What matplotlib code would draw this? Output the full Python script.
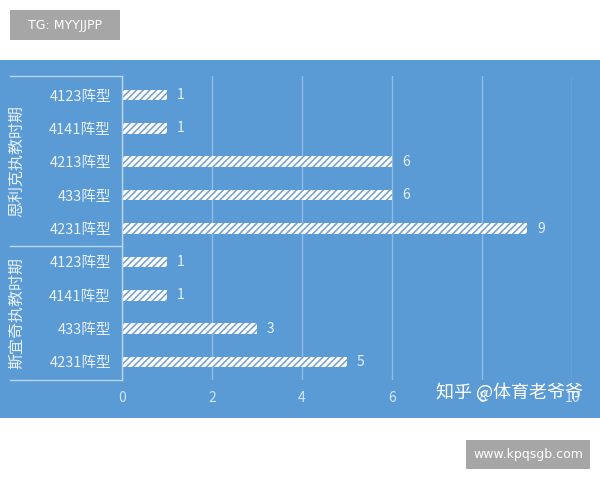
import matplotlib
matplotlib.use("Agg")
import matplotlib.pyplot as plt
from matplotlib.patches import Rectangle
from matplotlib.lines import Line2D

plt.rcParams['font.family'] = ['Noto Sans CJK SC', 'DejaVu Sans']
plt.rcParams['hatch.linewidth'] = 1.1

# ---- data ----
categories = ["4123阵型", "4141阵型", "4213阵型", "433阵型", "4231阵型",
              "4123阵型", "4141阵型", "433阵型", "4231阵型"]
values = [1, 1, 6, 6, 9, 1, 1, 3, 5]
groups = ["恩利克执教时期", "斯宜奇执教时期"]
group_sizes = [5, 4]
xticks = [0, 2, 4, 6, 8, 10]

BLUE = "#5b9bd5"
HATCH = "#6f9fcf"
W, H = 600, 480

fig = plt.figure(figsize=(6, 4.8), dpi=100)
fig.patch.set_facecolor("white")

def fx(px):
    return px / W

def fy(py):
    return 1 - py / H

# blue panel
fig.patches.append(Rectangle((0, fy(418)), 1, fy(60) - fy(418), transform=fig.transFigure,
                             facecolor=BLUE, edgecolor="none", zorder=-5))
# top grey box
fig.patches.append(Rectangle((fx(10), fy(40)), fx(110), fy(10) - fy(40), transform=fig.transFigure,
                             facecolor="#a6a6a6", edgecolor="none", zorder=-4))
fig.text(fx(65), fy(25), "TG: MYYJJPP", color="white", fontsize=9, ha="center", va="center",
         family=["DejaVu Sans"])
# bottom grey box
fig.patches.append(Rectangle((fx(466), fy(469)), fx(124), fy(440) - fy(469), transform=fig.transFigure,
                             facecolor="#a6a6a6", edgecolor="none", zorder=-4))
fig.text(fx(528), fy(454.5), "www.kpqsgb.com", color="white", fontsize=9, ha="center", va="center",
         family=["DejaVu Sans"])

# axes: x 0..10 maps to px 122..572 ; y axes from px 76..380
ax = fig.add_axes([fx(122), fy(380), fx(572 - 122), fy(76) - fy(380)])
ax.set_facecolor("none")
n = len(categories)
ypos = list(range(n))
ax.barh(ypos, values, height=0.32, color="white", edgecolor=HATCH, linewidth=0,
        hatch="/////", zorder=3)
ax.set_xlim(0, 10)
ax.set_ylim(8.54, -0.57)

for sp in ax.spines.values():
    sp.set_visible(False)

ax.set_xticks(xticks)
ax.set_xticklabels([str(t) for t in xticks], color="#d2e4f6", fontsize=10)
ax.tick_params(axis="x", length=0, pad=8)
ax.set_yticks(ypos)
ax.set_yticklabels(categories, color="#e8f0f9", fontsize=10.5)
ax.tick_params(axis="y", length=0, pad=8)

ax.grid(axis="x", color="#8fbde8", linewidth=1, zorder=1)
ax.set_axisbelow(True)

for y, v in zip(ypos, values):
    ax.text(v + 0.22, y, str(v), color="#e6eff9", fontsize=10, va="center", ha="left")

# category axis line and group separators
line_color = "#bcd6f0"
fig.lines.append(Line2D([fx(122), fx(122)], [fy(76), fy(380)], transform=fig.transFigure,
                        color=line_color, linewidth=1))
for py in (76, 246, 380):
    fig.lines.append(Line2D([fx(10), fx(122)], [fy(py), fy(py)], transform=fig.transFigure,
                            color=line_color, linewidth=1))

# group labels
bounds_px = [(76, 246), (246, 380)]
for g, (a, b) in zip(groups, bounds_px):
    fig.text(fx(17), fy((a + b) / 2), g, rotation=90, color="#e8f0f9", fontsize=11.5,
             ha="center", va="center")

# watermark
fig.text(fx(510), fy(392), "知乎 @体育老爷爷", color="white", fontsize=13, ha="center", va="center")

fig.savefig("out.png", dpi=100, facecolor="white")
